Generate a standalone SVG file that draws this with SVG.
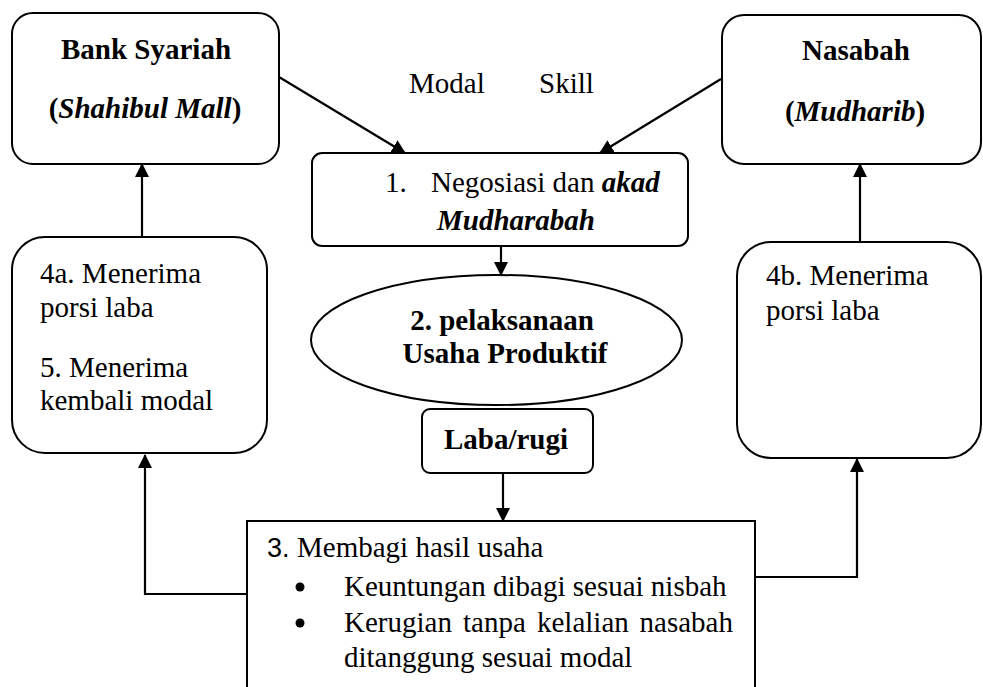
<svg xmlns="http://www.w3.org/2000/svg" width="983" height="687" viewBox="0 0 983 687">
<style>
.box{fill:#fff;stroke:#000;stroke-width:2}
.t{font-family:"Liberation Serif","Times New Roman",serif;font-size:29px;fill:#000}
.b{font-weight:bold}
.bi{font-weight:bold;font-style:italic}
.sans{font-family:"Liberation Sans",Arial,sans-serif;font-size:27px}
.c{text-anchor:middle}
.ln{fill:none;stroke:#000;stroke-width:2.2}
</style>
<defs>
<marker id="ah" markerUnits="userSpaceOnUse" markerWidth="14" markerHeight="14" refX="13" refY="7" orient="auto">
<path d="M0,0 L14,7 L0,14 z" fill="#000"/>
</marker>
</defs>
<rect width="983" height="687" fill="#fff"/>

<g id="bank">
<rect class="box" x="12" y="13" width="267" height="151" rx="21"/>
<text class="t b c" x="146" y="59">Bank Syariah</text>
<text class="t b c" x="145" y="118">(<tspan class="bi">Shahibul Mall</tspan>)</text>
</g>

<g id="nasabah">
<rect class="box" x="722" y="15" width="259" height="149" rx="22"/>
<text class="t b c" x="856" y="60">Nasabah</text>
<text class="t b c" x="855" y="121">(<tspan class="bi">Mudharib</tspan>)</text>
</g>

<g id="labels">
<text class="t" x="409" y="93">Modal</text>
<text class="t" x="539" y="93">Skill</text>
</g>

<g id="negosiasi">
<rect class="box" x="312" y="153" width="376" height="93" rx="10"/>
<text class="t" x="385" y="192">1.</text>
<text class="t" x="431" y="192">Negosiasi dan <tspan class="bi">akad</tspan></text>
<text class="t bi" x="437" y="230">Mudharabah</text>
</g>

<g id="pelaksanaan">
<ellipse class="box" cx="496.5" cy="340" rx="185.5" ry="65"/>
<text class="t b c" x="502" y="330">2. pelaksanaan</text>
<text class="t b c" x="505" y="363">Usaha Produktif</text>
</g>

<g id="labarugi">
<rect class="box" x="422" y="409" width="171" height="64" rx="8"/>
<text class="t b c" x="506" y="449">Laba/rugi</text>
</g>

<g id="bank-terima">
<rect class="box" x="12" y="237" width="255" height="216" rx="33"/>
<text class="t" x="40" y="283">4a. Menerima</text>
<text class="t" x="40" y="317">porsi laba</text>
<text class="t" x="40" y="377">5. Menerima</text>
<text class="t" x="40" y="410">kembali modal</text>
</g>

<g id="nasabah-terima">
<rect class="box" x="737" y="242" width="244" height="216" rx="34"/>
<text class="t" x="766" y="285">4b. Menerima</text>
<text class="t" x="766" y="320">porsi laba</text>
</g>

<g id="membagi">
<rect class="box" x="247" y="521" width="508" height="180"/>
<text class="t" x="267" y="557"><tspan class="sans">3.</tspan></text>
<text class="t" x="297" y="557">Membagi hasil usaha</text>
<circle cx="300" cy="587" r="4.5"/>
<text class="t" x="344" y="596">Keuntungan dibagi sesuai nisbah</text>
<circle cx="300" cy="623" r="4.5"/>
<text class="t" x="344" y="632">Kerugian</text>
<text class="t" x="463" y="632">tanpa</text>
<text class="t" x="537" y="632">kelalian</text>
<text class="t" x="733" y="632" text-anchor="end">nasabah</text>
<text class="t" x="344" y="667">ditanggung sesuai modal</text>
</g>

<g id="connectors">
<line class="ln" x1="279" y1="77" x2="405" y2="153" marker-end="url(#ah)"/>
<line class="ln" x1="721" y1="79" x2="600" y2="153" marker-end="url(#ah)"/>
<line class="ln" x1="501" y1="246" x2="501" y2="275" marker-end="url(#ah)"/>
<line class="ln" x1="503" y1="473" x2="503" y2="521" marker-end="url(#ah)"/>
<line class="ln" x1="142" y1="237" x2="142" y2="164" marker-end="url(#ah)"/>
<line class="ln" x1="860" y1="242" x2="860" y2="164" marker-end="url(#ah)"/>
<polyline class="ln" points="247,594 145,594 145,455" marker-end="url(#ah)"/>
<polyline class="ln" points="755,577 857,577 857,459" marker-end="url(#ah)"/>
</g>
</svg>
